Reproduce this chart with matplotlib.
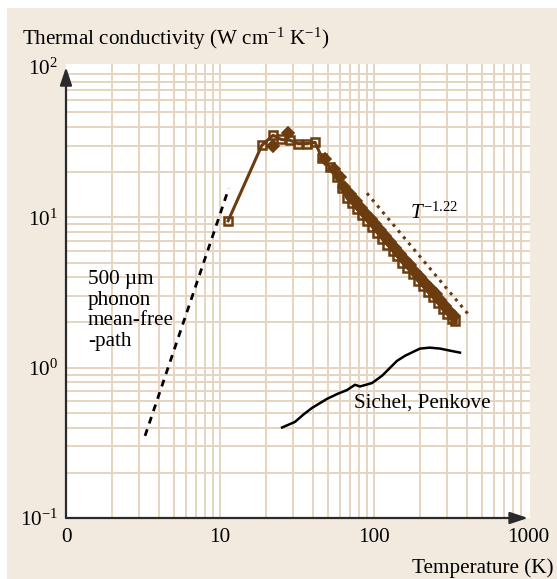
import numpy as np
import matplotlib
matplotlib.use("Agg")
import matplotlib.pyplot as plt
from matplotlib.patches import Rectangle

plt.rcParams['font.family'] = ['Liberation Serif', 'DejaVu Serif']
plt.rcParams['mathtext.fontset'] = 'custom'
plt.rcParams['mathtext.rm'] = 'Liberation Serif'
plt.rcParams['mathtext.it'] = 'Liberation Serif:italic'

# measured data (silicon, brown markers)
t_main = [11.3, 18.7, 22.1, 25, 28.5, 32, 36.7, 41.4, 45.9, 51.8, 57.5, 62, 66.8, 72, 78,
          84, 90, 97, 105, 113, 122, 132, 142, 153, 165, 178, 192, 207, 223, 240, 259,
          279, 300, 323, 336]
k_main = [9.5, 30.2, 35.2, 33, 32.6, 31, 31, 31.6, 25, 21.5, 18.5, 15.8, 13.4, 12.4, 11.3,
          10.3, 9.5, 8.7, 7.9, 7.2, 6.6, 6.0, 5.5, 5.0, 4.6, 4.2, 3.8, 3.5, 3.2, 2.95, 2.7,
          2.45, 2.28, 2.12, 2.05]
t_second = [22, 27.7, 48, 55, 60, 64, 70, 76, 82, 88, 95, 102, 110, 118, 127, 137, 148,
            160, 172, 186, 200, 216, 233, 251, 270, 290, 312, 330]
k_second = [30, 36.3, 24.5, 21, 18.5, 16, 14.3, 12.8, 11.6, 10.7, 9.8, 9.0, 8.2, 7.5,
            6.9, 6.3, 5.75, 5.2, 4.8, 4.35, 4.0, 3.65, 3.35, 3.08, 2.82, 2.58, 2.36, 2.22]

# T^-1.22 guide
t_fit = [90, 420]
k_fit = [14.5, 2.2]

# 500 um phonon mean-free-path limit
t_mfp = [3.26, 11.4]
k_mfp = [0.352, 15.6]

# Sichel, Penkove
t_sp = [25.3, 30.7, 35, 39.6, 49.5, 58, 66.8, 75.3, 81, 97, 113, 141, 159, 184, 199,
        230, 269, 310, 362]
k_sp = [0.40, 0.436, 0.49, 0.54, 0.62, 0.67, 0.71, 0.77, 0.75, 0.79, 0.885, 1.11, 1.2,
        1.29, 1.34, 1.36, 1.34, 1.30, 1.26]

x_ticks = [1, 10, 100, 1000]
x_labels = ['0', '10', '100', '1000']
y_ticks = [0.1, 1, 10, 100]
y_labels = [r'$10^{-1}$', r'$10^{0}$', r'$10^{1}$', r'$10^{2}$']

brown = '#6b3c10'
beige = '#f2eadf'
grid_c = '#e6d5c0'
fs = 15.2

W, H = 557, 579
fig = plt.figure(figsize=(W / 100, H / 100), dpi=100)
fig.patch.set_facecolor('white')
fig.patches.append(Rectangle((7 / W, 0), 1 - 7 / W, 1 - 8 / H, transform=fig.transFigure,
                             facecolor=beige, edgecolor='none', zorder=-10))

ax = fig.add_axes([66 / W, 61 / H, 464 / W, 454 / H])
ax.set_xscale('log')
ax.set_yscale('log')
ax.set_xlim(1, 1031)
ax.set_ylim(0.1, 104.9)
ax.set_facecolor('white')
for s in ax.spines.values():
    s.set_visible(False)

# grid lines
for dec in [1, 10, 100]:
    for m in range(1, 10):
        v = dec * m
        if v > 1:
            ax.axvline(v, color=grid_c, lw=1.4, zorder=0)
for dec in [0.1, 1, 10]:
    for m in range(1, 10):
        v = dec * m
        if v > 0.1:
            ax.axhline(v, color=grid_c, lw=1.4, zorder=0)

ax.set_xticks(x_ticks)
ax.set_xticklabels(x_labels)
ax.set_yticks(y_ticks)
ax.set_yticklabels(y_labels)
ax.minorticks_off()
ax.tick_params(axis='x', length=0, pad=7, labelsize=fs)
ax.tick_params(axis='y', length=0, pad=6, labelsize=fs)

# axis arrows
arr = dict(arrowstyle='-|>,head_length=0.9,head_width=0.3', lw=1.6, color='#2a2a2a',
           shrinkA=0, shrinkB=0, mutation_scale=12)
ax.annotate('', xy=(1000, 0.1), xytext=(1, 0.1), arrowprops=arr, annotation_clip=False)
ax.annotate('', xy=(1, 100), xytext=(1, 0.1), arrowprops=arr, annotation_clip=False)

# data
ax.plot(t_main, k_main, '-s', color=brown, lw=2.2, ms=6, mfc='none', mew=1.8, zorder=3)
ax.plot(t_second, k_second, 'D', color=brown, ms=6, mfc=brown, mew=1.2, zorder=3)
ax.plot(t_fit, k_fit, ':', color=brown, lw=2.2, zorder=3)
ax.plot(t_mfp, k_mfp, '--', color='black', lw=2, dashes=(2.5, 2.2), zorder=3)
ax.plot(t_sp, k_sp, '-', color='black', lw=1.8, zorder=3)

ax.text(171, 10.7, r'$\mathit{T}^{-1.22}$', fontsize=fs, ha='left', va='center')
ax.text(1.39, 2.4, '500 µm\nphonon\nmean-free\n-path', fontsize=fs, ha='left', va='center',
        linespacing=1.12)
ax.text(74, 0.585, 'Sichel, Penkove', fontsize=fs, ha='left', va='center')

fig.text(22 / W, 1 - 39 / H, r'Thermal conductivity (W cm$^{-1}$ K$^{-1}$)', fontsize=fs,
         ha='left', va='center')
fig.text(553 / W, 1 - 568 / H, 'Temperature (K)', fontsize=fs, ha='right', va='center')

fig.savefig('out.png', dpi=100, facecolor=fig.get_facecolor())
